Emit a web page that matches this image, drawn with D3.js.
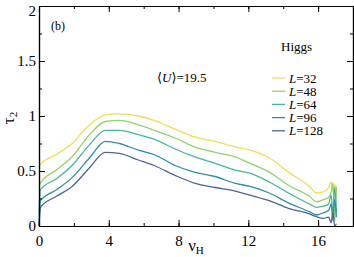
<!DOCTYPE html>
<html>
<head>
<meta charset="utf-8">
<script src="https://cdn.jsdelivr.net/npm/d3@7"></script>
<style>
  body { margin: 0; background: #fff; }
  svg text { font-family: "Liberation Serif", "Times New Roman", "DejaVu Serif", serif; }
</style>
</head>
<body>
<div id="chart"></div>
<script>
// values
const nuH = [0, 0.08, 1.0, 1.9, 2.9, 3.8, 4.6, 5.7, 6.6, 7.8, 8.9, 10.1, 11.2, 12.1, 13.2, 14.3, 15.5, 15.9, 16.3, 16.6, 16.75, 16.85, 16.95, 17.05];
const sizes = [32, 48, 64, 96, 128];
const tau32  = [0.53, 0.56, 0.65, 0.75, 0.92, 1.01, 1.02, 1.00, 0.96, 0.88, 0.81, 0.77, 0.72, 0.69, 0.62, 0.49, 0.36, 0.30, 0.31, 0.35, 0.40, 0.31, 0.38, 0.28];
const tau48  = [0.36, 0.39, 0.51, 0.63, 0.83, 0.95, 0.96, 0.92, 0.87, 0.80, 0.72, 0.67, 0.63, 0.57, 0.49, 0.37, 0.27, 0.22, 0.24, 0.26, 0.31, 0.39, 0.04, 0.36];
const tau64  = [0.10, 0.33, 0.43, 0.55, 0.74, 0.87, 0.87, 0.83, 0.79, 0.70, 0.63, 0.57, 0.51, 0.48, 0.40, 0.30, 0.20, 0.17, 0.18, 0.20, 0.28, 0.10, 0.35, 0.12];
const tau96  = [0.00, 0.23, 0.33, 0.44, 0.62, 0.77, 0.75, 0.69, 0.65, 0.55, 0.49, 0.45, 0.39, 0.36, 0.30, 0.21, 0.13, 0.10, 0.12, 0.14, 0.20, 0.05, 0.24, 0.08];
const tau128 = [0.00, 0.17, 0.27, 0.36, 0.53, 0.67, 0.66, 0.60, 0.55, 0.46, 0.39, 0.35, 0.32, 0.28, 0.23, 0.16, 0.11, 0.085, 0.07, 0.08, 0.03, 0.12, 0.00, 0.02];
const series = [tau32, tau48, tau64, tau96, tau128];
const colors = ["#ece058", "#94d36c", "#45b893", "#2f8ea2", "#4a6794"];
const xTicks = [0, 4, 8, 12, 16];
const yTicks = [0, 0.5, 1, 1.5, 2];

const serif = "Liberation Serif";
const width = 354, height = 257;
const margin = { top: 6, right: 1, bottom: 31, left: 39 };

const svg = d3.select("#chart").append("svg")
    .attr("width", width)
    .attr("height", height)
    .attr("font-family", serif);

const x = d3.scaleLinear().domain([0, 18]).range([margin.left, width - margin.right]);
const y = d3.scaleLinear().domain([0, 2]).range([height - margin.bottom, margin.top]);

// curves
const line = d3.line()
    .x((d, i) => x(nuH[i]))
    .y(d => y(d))
    .curve(d3.curveMonotoneX);

svg.append("g")
    .selectAll("path")
    .data(series)
    .join("path")
    .attr("d", line)
    .attr("fill", "none")
    .attr("stroke", (d, i) => colors[i])
    .attr("stroke-width", 1.3);

// frame with inward ticks on all four sides
const minorX = d3.range(0, 18.01, 2);
const minorY = d3.range(0, 2.01, 0.25);

function tickAxis(axisFn, scale, vals, size, labels) {
    return axisFn(scale).tickValues(vals).tickSize(-size).tickSizeOuter(0)
        .tickFormat(labels ? d3.format("") : "");
}

const axisStyle = g => {
    g.attr("font-family", serif).attr("font-size", 15);
    g.select(".domain").attr("stroke", "#000").attr("stroke-width", 1.2);
    g.selectAll(".tick line").attr("stroke", "#000").attr("stroke-width", 1);
    g.selectAll("text").attr("font-family", serif).attr("fill", "#000");
};

const bottom = height - margin.bottom;
const right = width - margin.right;

svg.append("g").attr("transform", `translate(0,${bottom})`)
    .call(tickAxis(d3.axisBottom, x, minorX, 3, false)).call(axisStyle);
svg.append("g").attr("transform", `translate(0,${bottom})`)
    .call(tickAxis(d3.axisBottom, x, xTicks, 6, true).tickPadding(9)).call(axisStyle);
svg.append("g").attr("transform", `translate(0,${margin.top})`)
    .call(tickAxis(d3.axisTop, x, minorX, 3, false)).call(axisStyle);
svg.append("g").attr("transform", `translate(0,${margin.top})`)
    .call(tickAxis(d3.axisTop, x, xTicks, 6, false)).call(axisStyle);

svg.append("g").attr("transform", `translate(${margin.left},0)`)
    .call(tickAxis(d3.axisLeft, y, minorY, 3, false)).call(axisStyle);
svg.append("g").attr("transform", `translate(${margin.left},0)`)
    .call(tickAxis(d3.axisLeft, y, yTicks, 6, true).tickPadding(3)).call(axisStyle)
    .selectAll(".tick text").filter(d => d === 2).attr("dy", "0.62em");
svg.append("g").attr("transform", `translate(${right},0)`)
    .call(tickAxis(d3.axisRight, y, minorY, 3, false)).call(axisStyle);
svg.append("g").attr("transform", `translate(${right},0)`)
    .call(tickAxis(d3.axisRight, y, yTicks, 6, false)).call(axisStyle);

// axis titles
const xt = svg.append("text")
    .attr("x", 196).attr("y", 251)
    .attr("text-anchor", "middle")
    .attr("font-size", 17);
xt.append("tspan").text("ν");
xt.append("tspan").attr("font-size", 11).attr("dy", 3).text("H");

const yt = svg.append("text")
    .attr("transform", "translate(14,118) rotate(-90)")
    .attr("text-anchor", "middle")
    .attr("font-size", 17);
yt.append("tspan").text("τ");
yt.append("tspan").attr("font-size", 11).attr("dy", 3).text("2");

// annotations
svg.append("text").attr("x", 51).attr("y", 30).attr("font-size", 12).text("(b)");

const u = svg.append("text").attr("x", 157).attr("y", 82).attr("font-size", 13);
u.append("tspan").text("⟨");
u.append("tspan").attr("font-style", "italic").text("U");
u.append("tspan").text("⟩=19.5");

svg.append("text").attr("x", 281).attr("y", 51).attr("font-size", 13).text("Higgs");

// legend
const legend = svg.append("g")
    .selectAll("g")
    .data(sizes)
    .join("g")
    .attr("transform", (d, i) => `translate(272,${78 + i * 13.2})`);

legend.append("line")
    .attr("x1", 0).attr("x2", 13)
    .attr("stroke", (d, i) => colors[i])
    .attr("stroke-width", 1.3);

const lt = legend.append("text")
    .attr("x", 17).attr("y", 4.5)
    .attr("font-size", 13);
lt.append("tspan").attr("font-style", "italic").text("L");
lt.append("tspan").text(d => "=" + d);
</script>
</body>
</html>
